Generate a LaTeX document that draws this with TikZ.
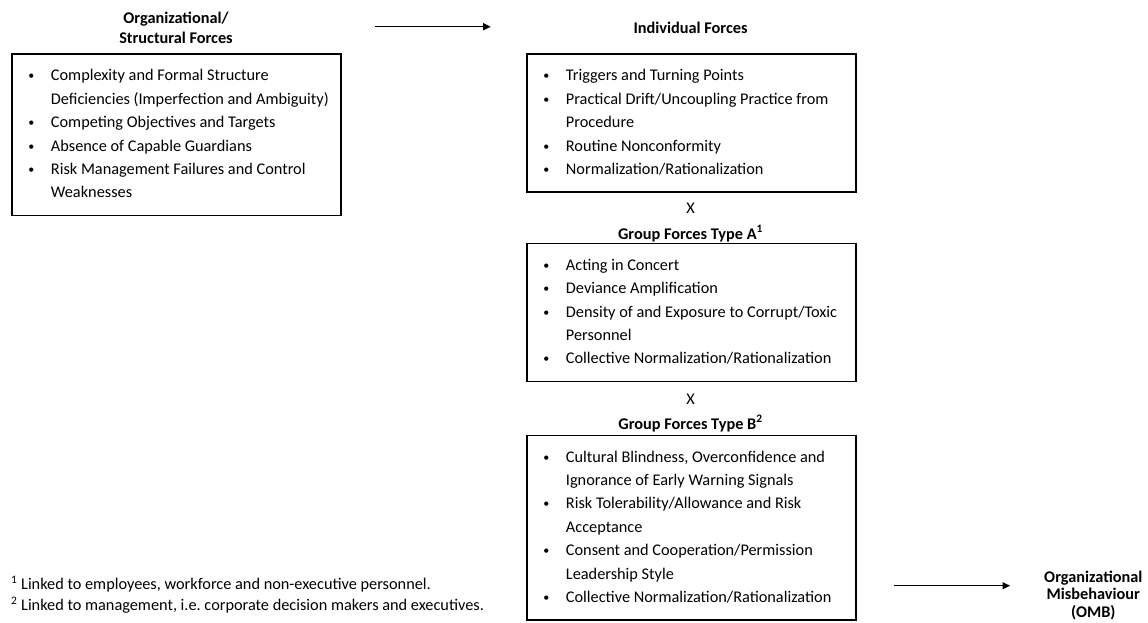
\documentclass[tikz,border=0pt]{standalone}
\usepackage{fontspec}
\setmainfont{Carlito}
\usetikzlibrary{arrows.meta}
\newcommand{\forceitem}[1]{\noindent\hangindent=28pt\hangafter=1%
  \makebox[17pt][c]{\raisebox{1pt}{\fontsize{12}{12}\selectfont\textbullet}}\hspace{11pt}\strut#1\strut\par}
\tikzset{
  forcetext/.style = {inner sep=0pt, font=\fontsize{16.3}{20}\selectfont},
  forcetitle/.style = {forcetext, align=center,
    font=\fontsize{16.3}{20}\selectfont\bfseries},
  forcebox/.style = {draw=black, line width=1.3pt, anchor=north west,
    text width=307pt, inner xsep=11pt, inner ysep=10.5pt, align=flush left,
    font=\fontsize{16.3}{23.4}\selectfont},
  flow/.style = {line width=1.3pt, -{Triangle[length=7.5pt,width=7pt]}}
}

\begin{document}
\begin{tikzpicture}[x=1pt, y=-1pt]
\useasboundingbox (0,0) rectangle (1148,622);

\node [forcetitle] (orgtitle) at (176,28.3) {Organizational/\\Structural Forces};
\node [forcebox] (orgbox) at (11.3,53.3) {%
  \forceitem{Complexity and Formal Structure\newline Deficiencies (Imperfection and Ambiguity)}%
  \forceitem{Competing Objectives and Targets}%
  \forceitem{Absence of Capable Guardians}%
  \forceitem{Risk Management Failures and Control\newline Weaknesses}%
};

\node [forcetitle] (indivtitle) at (690.5,28) {Individual Forces};
\node [forcebox] (indivbox) at (526.3,53.3) {%
  \forceitem{Triggers and Turning Points}%
  \forceitem{Practical Drift/Uncoupling Practice from\newline Procedure}%
  \forceitem{Routine Nonconformity}%
  \forceitem{Normalization/Rationalization}%
};

\node [forcetext] (timesA) at (690.5,208) {X};
\node [forcetitle] (grouptitleA) at (690.5,233.5) {Group Forces Type A\textsuperscript{1}};
\node [forcebox] (groupboxA) at (526.3,242.7) {%
  \forceitem{Acting in Concert}%
  \forceitem{Deviance Amplification}%
  \forceitem{Density of and Exposure to Corrupt/Toxic\newline Personnel}%
  \forceitem{Collective Normalization/Rationalization}%
};

\node [forcetext] (timesB) at (690.5,399) {X};
\node [forcetitle] (grouptitleB) at (690.5,423.5) {Group Forces Type B\textsuperscript{2}};
\node [forcebox] (groupboxB) at (526.3,434.5) {%
  \forceitem{Cultural Blindness, Overconfidence and\newline Ignorance of Early Warning Signals}%
  \forceitem{Risk Tolerability/Allowance and Risk\newline Acceptance}%
  \forceitem{Consent and Cooperation/Permission\newline Leadership Style}%
  \forceitem{Collective Normalization/Rationalization}%
};

\node [forcetitle, font=\fontsize{16.3}{17.5}\selectfont\bfseries] (omb) at (1093.3,595)
  {Organizational\\Misbehaviour\\(OMB)};

\node [forcetext, anchor=west, align=left, font=\fontsize{16.3}{21}\selectfont] (notes) at (11,594.7)
  {\textsuperscript{1} Linked to employees, workforce and non-executive personnel.\\
   \textsuperscript{2} Linked to management, i.e.\ corporate decision makers and executives.};

\coordinate (topstart) at (375,26.7);
\coordinate (topend) at (490.7,26.7);
\coordinate (ombstart) at (894.3,585.7);
\coordinate (ombend) at (1010,585.7);
\draw [flow] (topstart) -- (topend);
\draw [flow] (ombstart) -- (ombend);
\end{tikzpicture}
\end{document}
